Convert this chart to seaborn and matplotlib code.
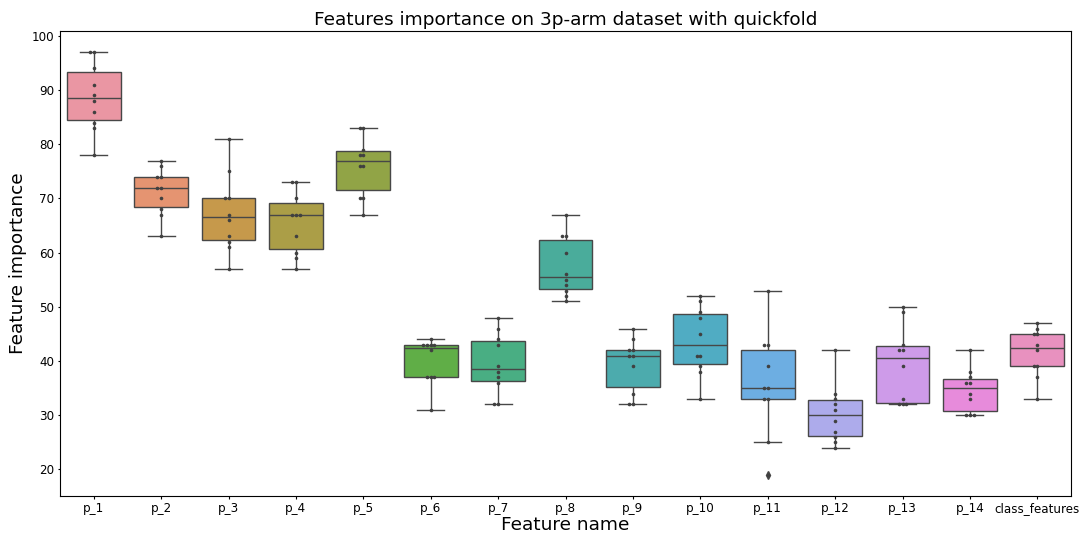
import numpy as np
import pandas as pd
import matplotlib
matplotlib.use("Agg")
import matplotlib.pyplot as plt
import seaborn as sns

features = ["p_1", "p_2", "p_3", "p_4", "p_5", "p_6", "p_7", "p_8", "p_9",
            "p_10", "p_11", "p_12", "p_13", "p_14", "class_features"]

p_1 = [97, 97, 94, 91, 89, 88, 86, 84, 83, 78]
p_2 = [77, 76, 74, 74, 72, 72, 70, 68, 67, 63]
p_3 = [81, 75, 70, 70, 67, 66, 63, 62, 61, 57]
p_4 = [73, 73, 70, 67, 67, 67, 63, 60, 59, 57]
p_5 = [83, 83, 79, 78, 78, 76, 76, 70, 70, 67]
p_6 = [44, 43, 43, 43, 43, 42, 37, 37, 37, 31]
p_7 = [48, 46, 44, 43, 39, 38, 37, 36, 32, 32]
p_8 = [67, 63, 63, 60, 56, 55, 54, 53, 52, 51]
p_9 = [46, 44, 42, 42, 41, 41, 39, 34, 32, 32]
p_10 = [52, 51, 49, 48, 45, 41, 41, 39, 38, 33]
p_11 = [53, 43, 43, 39, 35, 35, 33, 33, 25, 19]
p_12 = [42, 34, 33, 32, 31, 29, 27, 26, 25, 24]
p_13 = [50, 49, 43, 42, 42, 39, 33, 32, 32, 32]
p_14 = [42, 38, 37, 36, 36, 34, 33, 30, 30, 30]
class_features = [47, 46, 45, 45, 43, 42, 39, 39, 37, 33]

values = [p_1, p_2, p_3, p_4, p_5, p_6, p_7, p_8, p_9, p_10, p_11, p_12,
          p_13, p_14, class_features]

rows = []
for name, vals in zip(features, values):
    for v in vals:
        rows.append({"Feature name": name, "Feature importance": v})
df = pd.DataFrame(rows)

fig = plt.figure(figsize=(10.82, 5.35), dpi=100)
ax = fig.add_axes([60 / 1082, 1 - 496 / 535, (1071 - 60) / 1082, (496 - 31) / 535])

palette = sns.husl_palette(len(features), l=.7)
sns.boxplot(data=df, x="Feature name", y="Feature importance", hue="Feature name",
            order=features, hue_order=features, palette=palette, legend=False,
            saturation=0.75, width=0.8, linecolor="#474747", linewidth=1.0,
            flierprops=dict(marker="d", markerfacecolor="#474747",
                            markeredgecolor="#474747", markersize=4),
            ax=ax)
sns.swarmplot(data=df, x="Feature name", y="Feature importance", order=features,
              color=".25", size=2.6, ax=ax)

ax.set_title("Features importance on 3p-arm dataset with quickfold", fontsize=13.3, pad=4)
ax.set_xlabel("Feature name", fontsize=13.3, labelpad=1)
ax.set_ylabel("Feature importance", fontsize=13.3, labelpad=3)
ax.tick_params(labelsize=8.6, length=1.8, pad=2.5)

fig.savefig("out.png", dpi=100)
